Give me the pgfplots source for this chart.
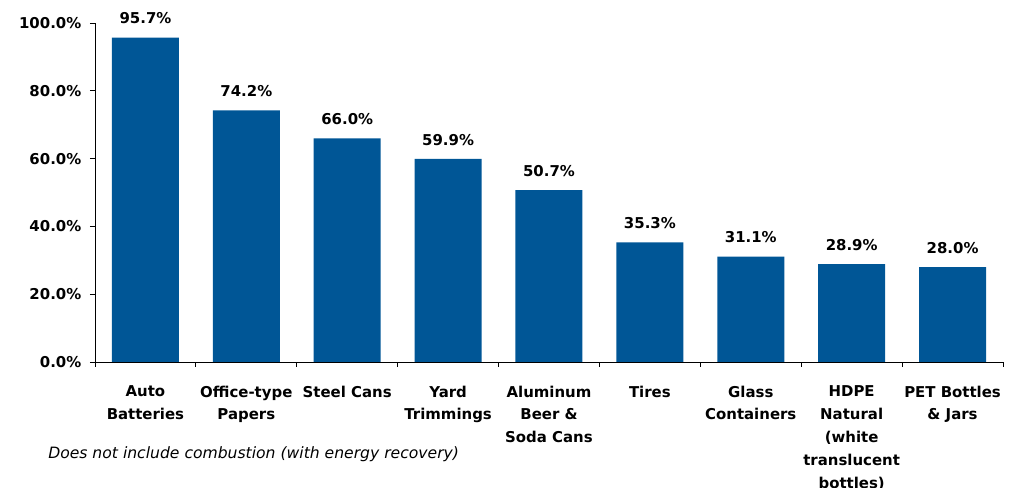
\documentclass[border=0pt]{standalone}
\usepackage{pgfplots}
\pgfplotsset{compat=1.18}
\usepackage{fontspec}
\setmainfont{DejaVu Sans}
\definecolor{barblue}{RGB}{0,86,150}
\newcommand{\lbl}{\fontsize{11.2}{17.2}\selectfont\bfseries}
\begin{document}
\begin{tikzpicture}
\begin{axis}[
  at={(0,0)}, anchor=south west,
  scale only axis, width=681pt, height=254.25pt,
  xmin=-0.5, xmax=8.5, ymin=0, ymax=100,
  axis x line*=bottom, axis y line*=left,
  axis line style={black, line width=0.7pt},
  ybar, bar width=50.25pt,
  xtick=data,
  xticklabels={{Auto\\Batteries},{Office-type\\Papers},{Steel Cans},{Yard\\Trimmings},{Aluminum\\Beer \&\\Soda Cans},{Tires},{Glass\\Containers},{HDPE\\Natural\\(white\\translucent\\bottles)},{PET Bottles\\\& Jars}},
  xticklabel style={align=center, font=\lbl, anchor=north, yshift=-10.5pt},
  major x tick style={draw=none},
  minor xtick={-0.5,0.5,...,8.5},
  tick align=outside,
  major tick length=3.75pt, minor tick length=3.75pt,
  tick style={black, line width=0.7pt},
  ytick={0,20,...,100},
  yticklabel={\pgfmathprintnumber[fixed,fixed zerofill,precision=1]{\tick}\%},
  yticklabel style={font=\lbl, xshift=-3pt},
  /pgf/number format/assume math mode=true,
  nodes near coords={\pgfmathprintnumber[fixed,fixed zerofill,precision=1]{\pgfplotspointmeta}\%},
  every node near coord/.append style={font=\lbl, anchor=south, inner sep=0pt, yshift=10pt},
  clip=false,
]
\addplot[fill=barblue, draw=none] coordinates {
  (0,95.7) (1,74.2) (2,66.0) (3,59.9) (4,50.7) (5,35.3) (6,31.1) (7,28.9) (8,28.0)
};
\end{axis}
\node[anchor=west, inner sep=0pt, font=\fontsize{11.7}{14}\selectfont\itshape] at (-35.25pt,-69pt) {Does not include combustion (with energy recovery)};
\pgfresetboundingbox
\useasboundingbox (-71.25pt,-94.5pt) rectangle (686.25pt,271.5pt);
\end{tikzpicture}
\end{document}
